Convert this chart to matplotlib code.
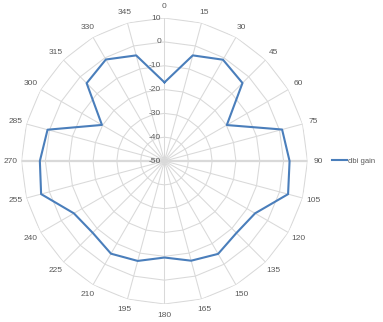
import numpy as np
import matplotlib.pyplot as plt

plt.rcParams['font.family'] = ['Liberation Sans', 'DejaVu Sans']

angles = [0, 15, 30, 45, 60, 75, 90, 105, 120, 135, 150, 165,
          180, 195, 210, 225, 240, 255, 270, 285, 300, 315, 330, 345]
gain = [-17.0, -4.1, -0.9, -3.7, -19.8, 1.1, 2.5, 3.7, -6.1, -7.3, -5.0, -6.7,
        -9.5, -6.6, -5.1, -7.4, -6.1, 3.6, 2.3, 0.8, -19.7, -3.8, -0.8, -4.1]
rings = [-50, -40, -30, -20, -10, 0, 10]

grid_col = '#d9d9d9'
text_col = '#595959'

fig = plt.figure(figsize=(3.83, 3.22), dpi=100)
ax = fig.add_axes([0.0561, 0.0559, 0.7467, 0.888], projection='polar')
ax.set_theta_zero_location('N')
ax.set_theta_direction(-1)
ax.set_ylim(-50, 10)
ax.grid(False)
ax.spines['polar'].set_visible(False)
ax.set_xticks([])
ax.set_yticks([])
ax.patch.set_alpha(0)

th = np.deg2rad(angles)
th_closed = np.append(th, th[0])

# polygon gridlines
for r in rings:
    ax.plot(th_closed, [r] * len(th_closed), color=grid_col, lw=0.75, zorder=1)

# spokes
for a in angles:
    lw = 1.6 if a in (90, 270) else 0.75
    ax.plot([np.deg2rad(a), np.deg2rad(a)], [-50, 10], color=grid_col, lw=lw, zorder=1)

# category labels
for a in angles:
    ax.text(np.deg2rad(a), 14.7, str(a), ha='center', va='center',
            fontsize=6, color=text_col, clip_on=False)

# value labels
for r in rings:
    ax.annotate(str(r), xy=(0, r), xytext=(-2.5, 0), textcoords='offset points',
                ha='right', va='center', fontsize=6, color=text_col)

ax.plot(th_closed, gain + [gain[0]], color='#4a7ebb', lw=1.5, zorder=3,
        label='dbi gain')

fig.legend(loc='center left', bbox_to_anchor=(0.866, 0.5), frameon=False,
           fontsize=5.5, handlelength=2.0, handletextpad=0.15, borderpad=0,
           borderaxespad=0, labelcolor=text_col)

fig.savefig('out.png', dpi=100)
